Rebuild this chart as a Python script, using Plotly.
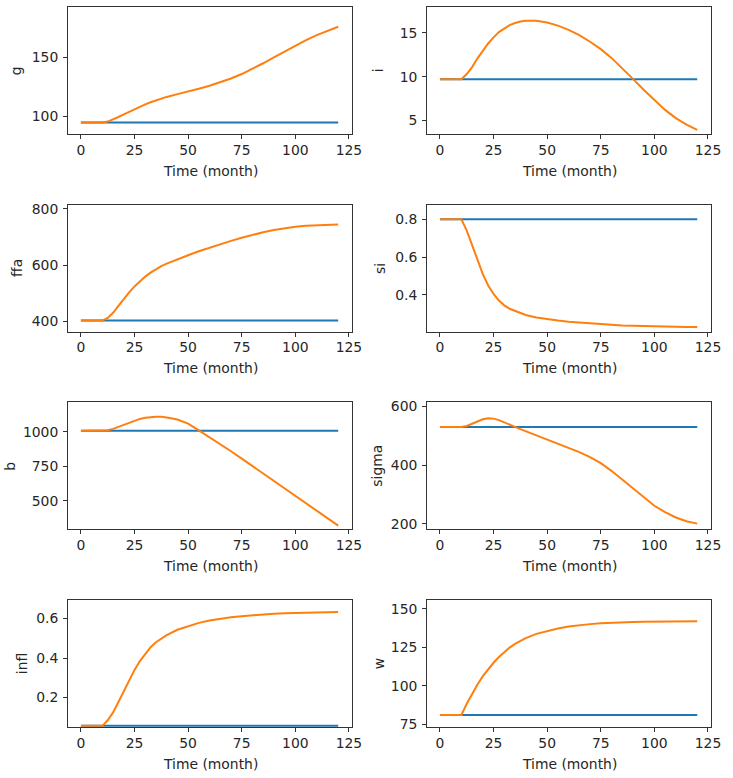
import plotly.graph_objects as go

# ---------------- data ----------------
time = [0, 10, 12.5, 15, 17.5, 20, 22.5, 25, 27.5, 30, 32.5, 35, 37.5, 40, 45, 50, 55, 60, 65, 70,
        75, 80, 85, 90, 95, 100, 105, 110, 115, 120]
t_base = [0, 120]

g_base = [94.4, 94.4]
g_scen = [94.4, 94.4, 95.3, 97.0, 99.2, 101.5, 103.8, 106.0, 108.1, 110.0, 111.8, 113.4, 114.9, 116.3,
          118.7, 120.8, 123.2, 125.8, 128.7, 132.0, 135.8, 140.2, 145.0, 150.0, 155.1, 160.1, 164.8,
          169.0, 172.8, 176.1]

i_base = [9.7, 9.7]
i_scen = [9.7, 9.7, 10.3, 11.1, 12.1, 13.0, 13.8, 14.5, 15.1, 15.5, 15.9, 16.15, 16.32, 16.4,
          16.4, 16.2, 15.85, 15.35, 14.75, 14.0, 13.15, 12.15, 11.0, 9.75, 8.5, 7.3, 6.2,
          5.25, 4.5, 3.9]

ffa_base = [402.3, 402.3]
ffa_scen = [402.3, 402.3, 412, 430, 455, 480, 503, 524, 543, 559, 573, 585, 596, 605,
            621, 635, 649, 662, 674, 686, 697, 708, 717, 725, 731, 736, 740, 742, 743.5, 744]

si_base = [0.8, 0.8]
si_scen = [0.8, 0.8, 0.74, 0.66, 0.58, 0.51, 0.45, 0.405, 0.37, 0.345, 0.327, 0.315, 0.303, 0.294,
           0.281, 0.272, 0.265, 0.259, 0.254, 0.249, 0.245, 0.242, 0.239, 0.237, 0.235, 0.234,
           0.233, 0.232, 0.231, 0.23]

b_base = [1007, 1007]
b_scen = [1007, 1007, 1010, 1020, 1035, 1050, 1066, 1080, 1092, 1101, 1106, 1108, 1107, 1103,
          1088, 1058, 1009, 960, 910, 858, 805, 751, 697, 642, 588, 535, 480, 425, 371, 320]

sigma_base = [530.3, 530.3]
sigma_scen = [530.3, 530.3, 534, 542, 551, 557, 560, 559, 554, 547, 539, 531, 523, 516,
              502, 488, 474, 460, 445, 428, 407, 381, 351, 319, 289, 262, 240, 222, 209, 201]

infl_base = [0.057, 0.057]
infl_scen = [0.057, 0.057, 0.085, 0.125, 0.178, 0.233, 0.29, 0.34, 0.385, 0.423, 0.455, 0.48, 0.5,
             0.516, 0.543, 0.562, 0.578, 0.59, 0.599, 0.606, 0.612, 0.617, 0.621, 0.624, 0.626,
             0.628, 0.63, 0.631, 0.632, 0.633]

w_base = [81.2, 81.2]
w_scen = [81.2, 81.2, 88.5, 95, 101, 106.3, 111, 115, 118.7, 122, 124.8, 127.2, 129.3, 131,
          133.7, 135.7, 137.2, 138.4, 139.3, 140, 140.5, 140.9, 141.2, 141.4, 141.6, 141.7,
          141.8, 141.85, 141.9, 141.9]

x_ticks = [0, 25, 50, 75, 100, 125]
x_title = "Time (month)"

panels = [
    ("g", g_base, g_scen, [84.7, 193.0], [100, 150], 17),
    ("i", i_base, i_scen, [3.44, 17.98], [5, 10, 15], 384),
    ("ffa", ffa_base, ffa_scen, [363, 815], [400, 600, 800], 17),
    ("si", si_base, si_scen, [0.206, 0.877], [0.4, 0.6, 0.8], 385),
    ("b", b_base, b_scen, [293, 1212], [500, 750, 1000], 10),
    ("sigma", sigma_base, sigma_scen, [181.5, 614.5], [200, 400, 600], 382),
    ("infl", infl_base, infl_scen, [0.051, 0.6935], [0.2, 0.4, 0.6], 22),
    ("w", w_base, w_scen, [73.4, 155.6], [75, 100, 125, 150], 384),
]

# ---------------- layout geometry (pixels) ----------------
W, H = 733, 778
col_lr = [(69, 357), (433, 721)]
FONT = dict(family="DejaVu Sans", size=13.9, color="#262626")
BLUE, ORANGE = "#1f77b4", "#ff7f0e"
AX = "#333333"

fig = go.Figure()
layout = dict(width=W, height=H, margin=dict(l=0, r=0, t=0, b=0),
              paper_bgcolor="white", plot_bgcolor="white", showlegend=False,
              font=FONT, annotations=[])

for k, (name, base, scen, yr, yt, label_x) in enumerate(panels):
    row, col = divmod(k, 2)
    n = "" if k == 0 else str(k + 1)
    xa, ya = "x" + n, "y" + n
    top = 3 + 200 * row
    bot = 131.5 + 200 * row
    l, r = col_lr[col]
    fig.add_trace(go.Scatter(x=t_base, y=base, mode="lines", xaxis=xa, yaxis=ya,
                             line=dict(color=BLUE, width=2)))
    fig.add_trace(go.Scatter(x=time, y=scen, mode="lines", xaxis=xa, yaxis=ya,
                             line=dict(color=ORANGE, width=2)))
    common = dict(showline=True, mirror=True, linecolor=AX, linewidth=1, ticks="outside",
                  ticklen=4, tickwidth=1, tickcolor=AX, showgrid=False, zeroline=False,
                  tickfont=FONT, fixedrange=True)
    layout["xaxis" + n] = dict(domain=[l / W, r / W], range=[-6, 126.5], tickvals=x_ticks,
                               anchor=ya, ticklabelstandoff=-1, **common)
    layout["yaxis" + n] = dict(domain=[1 - bot / H, 1 - top / H], range=yr, tickvals=yt,
                               anchor=xa, ticklabelstandoff=2, **common)
    layout["annotations"].append(dict(text=x_title, xref="paper", yref="paper",
                                      x=((l + r) / 2) / W, y=1 - (bot + 37) / H,
                                      xanchor="center", yanchor="middle", showarrow=False,
                                      font=FONT))
    layout["annotations"].append(dict(text=name, xref="paper", yref="paper",
                                      x=label_x / W, y=1 - ((top + bot) / 2) / H,
                                      xanchor="center", yanchor="middle", showarrow=False,
                                      textangle=-90, font=FONT))

fig.update_layout(**layout)
fig.write_html("out.html")
